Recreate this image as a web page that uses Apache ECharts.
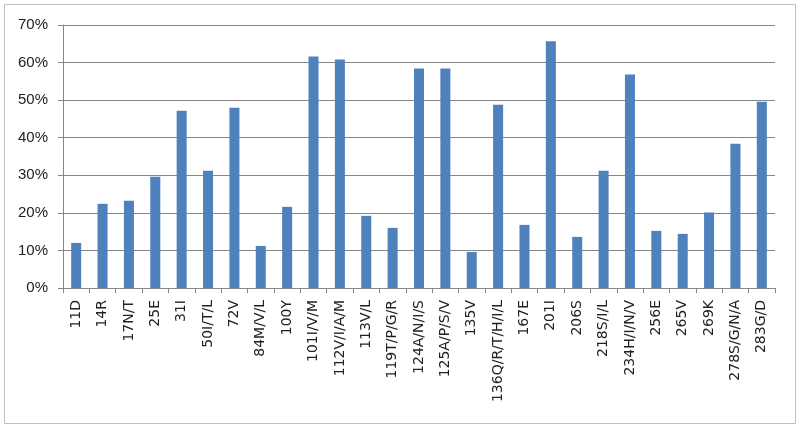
<!DOCTYPE html>
<html>
<head>
<meta charset="utf-8">
<script src="https://cdn.jsdelivr.net/npm/echarts@6/dist/echarts.min.js"></script>
<style>
  html, body { margin: 0; padding: 0; background: #fff; }
  #chart { width: 800px; height: 429px; }
</style>
</head>
<body>
<div id="chart"></div>
<script>
const categories = ['11D', '14R', '17N/T', '25E', '31I', '50I/T/L', '72V', '84M/V/L', '100Y',
  '101I/V/M', '112V/I/A/M', '113V/L', '119T/P/G/R', '124A/N/I/S', '125A/P/S/V', '135V',
  '136Q/R/T/H/I/L', '167E', '201I', '206S', '218S/I/L', '234H/I/N/V', '256E', '265V', '269K',
  '278S/G/N/A', '283G/D']
const values = [12.0, 22.4, 23.2, 29.6, 47.2, 31.2, 48.0, 11.2, 21.6,
  61.6, 60.8, 19.2, 16.0, 58.4, 58.4, 9.6,
  48.8, 16.8, 65.7, 13.6, 31.2, 56.8, 15.2, 14.4, 20.1,
  38.4, 49.6]

const chart = echarts.init(document.getElementById('chart'), null, { renderer: 'canvas' })

const option = {
  animation: false,
  backgroundColor: '#fff',
  graphic: [{
    type: 'rect',
    shape: { x: 4.5, y: 4.5, width: 791, height: 419 },
    style: { fill: 'none', stroke: '#bfbfbf', lineWidth: 1 },
    silent: true
  }],
  grid: {
    left: 63,
    right: 25,
    top: 25,
    bottom: 141
  },
  xAxis: {
    type: 'category',
    data: categories,
    boundaryGap: true,
    axisLine: { lineStyle: { color: '#868686', width: 1 } },
    axisTick: { show: true, alignWithLabel: false, length: 5, lineStyle: { color: '#868686' } },
    axisLabel: {
      interval: 0,
      rotate: 90,
      margin: 12,
      fontSize: 14,
      fontFamily: 'DejaVu Sans',
      color: '#222'
    }
  },
  yAxis: {
    type: 'value',
    min: 0,
    max: 70,
    interval: 10,
    axisLine: { show: true, lineStyle: { color: '#868686', width: 1 } },
    axisTick: { show: true, length: 5, lineStyle: { color: '#868686' } },
    splitLine: { show: true, lineStyle: { color: '#868686', width: 1 } },
    axisLabel: {
      formatter: '{value}%',
      margin: 15,
      fontSize: 15,
      fontFamily: 'Liberation Sans',
      color: '#222'
    }
  },
  series: [{
    type: 'bar',
    data: values,
    barWidth: '38%',
    itemStyle: { color: '#4f81bd' }
  }]
}

chart.setOption(option)
</script>
</body>
</html>
